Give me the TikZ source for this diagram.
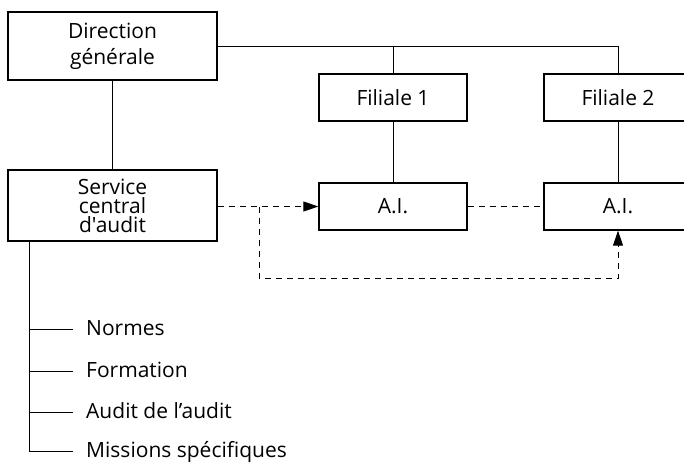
\documentclass[tikz,border=0pt]{standalone}
\usepackage{fontspec}
\setmainfont{Open Sans}[Ligatures=TeXOff]
\usetikzlibrary{arrows.meta,calc}
\newcommand{\boxw}{148pt}
\newcommand{\boxh}{47pt}
\newcommand{\linkw}{0.9pt}

\begin{document}
\begin{tikzpicture}[x=1pt,y=-1pt,
    font=\fontsize{21}{19}\selectfont,
    unit/.style={draw, line width=1.3pt, minimum width=\boxw, minimum height=\boxh,
        inner sep=0pt, align=center, text=black},
    item/.style={anchor=west, inner xsep=13pt, inner ysep=0pt, text=black,
        text height=16pt, text depth=4pt},
    link/.style={line width=\linkw},
    dash link/.style={line width=\linkw, dash pattern=on 6pt off 5pt},
    tip/.style={-{Triangle[length=15pt,width=10pt]}}]
\useasboundingbox (0,0) rectangle (684,464);

% boxes
\node[unit, minimum width=209pt, minimum height=68pt,
    font=\fontsize{21}{26}\selectfont] (dg) at (112.5,46) {Direction\\générale};
\node[unit, minimum width=209pt, minimum height=71pt] (sca) at (112.5,205.5) {Service\\central\\d'audit};
\node[unit] (f1) at (393,97.5) {Filiale 1};
\node[unit] (f2) at (618,97.5) {Filiale 2};
\node[unit] (ai1) at (393,206.5) {A.I.};
\node[unit] (ai2) at (618,206.5) {A.I.};

% hierarchy
\draw[link] (dg.east) -| (f2.north);
\draw[link] (f1.north) -- (f1.north |- dg.east);
\draw[link] (dg) -- (sca);
\draw[link] (f1) -- (ai1);
\draw[link] (f2) -- (ai2);

% audit links
\draw[dash link, tip] (sca.east |- ai1.west) -- (ai1.west);
\draw[dash link] (ai1.east) -- (ai2.west);
\coordinate (fork) at (259,206.5);
\coordinate (loop) at (259,278);
\draw[dash link, tip] (fork) -- (loop) -| (ai2.south);

% tasks
\coordinate (trunk) at ([xshift=22pt]sca.south west);
\foreach \i/\y/\t in {1/329/Normes, 2/371/Formation, 3/412/Audit de l’audit, 4/451/Missions spécifiques} {
    \node[item] (task\i) at (73,\y) {\t};
    \draw[link] (trunk |- task\i.west) -- (task\i.west);
}
\draw[link] (trunk) -- (trunk |- task4.west);
\end{tikzpicture}
\end{document}
